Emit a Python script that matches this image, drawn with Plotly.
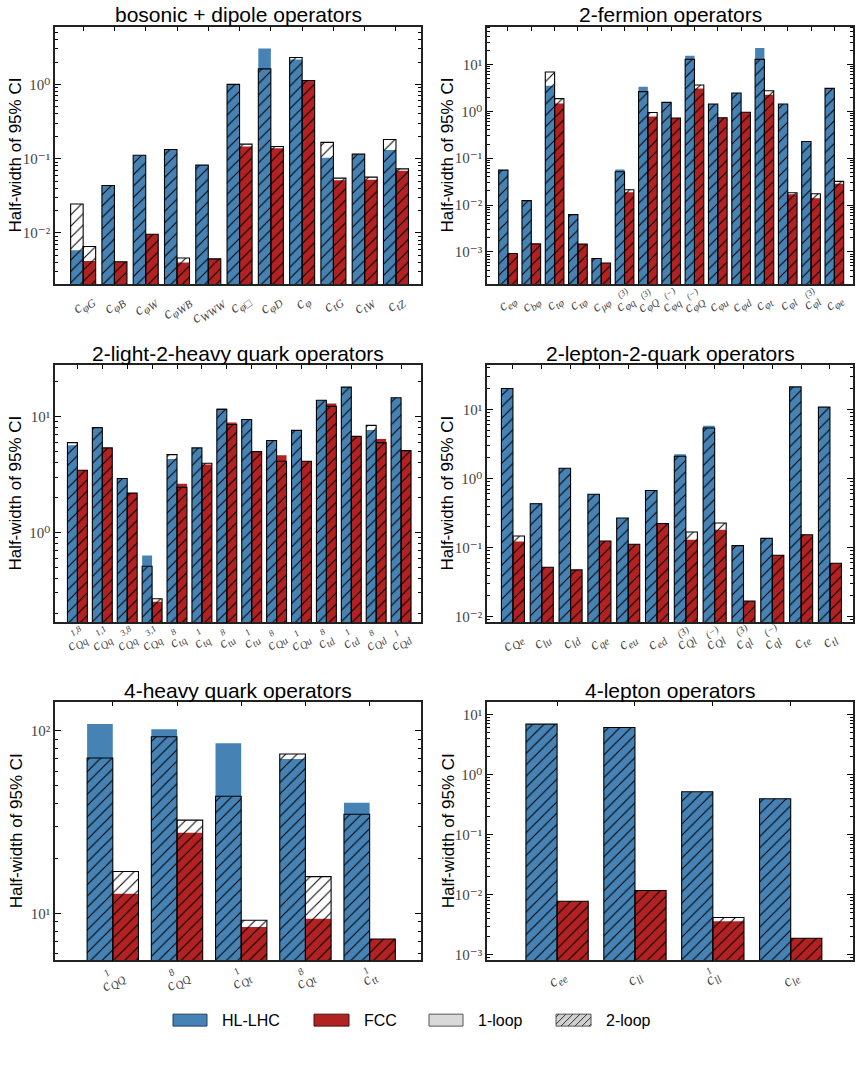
import re
import math
import plotly.graph_objects as go
import numpy as np

BLUE = "#4682b4"
RED = "#b22222"

# ---------------- data ----------------
# Panel 1: bosonic + dipole
bos_labels = ["c<sub>φG</sub>", "c<sub>φB</sub>", "c<sub>φW</sub>", "c<sub>φWB</sub>", "c<sub>WWW</sub>",
              "c<sub>φ□</sub>", "c<sub>φD</sub>", "c<sub>φ</sub>", "c<sub>tG</sub>", "c<sub>tW</sub>", "c<sub>tZ</sub>"]
bos_hl_1loop = [0.00585, 0.0436, 0.111, 0.133, 0.0818, 1.0, 3.04, 2.17, 0.1026, 0.115, 0.131]
bos_hl_2loop = [0.0245, 0.0436, 0.111, 0.133, 0.0818, 1.0, 1.62, 2.30, 0.166, 0.115, 0.181]
bos_fcc_1loop = [0.0042, 0.0041, 0.0096, 0.0040, 0.00448, 0.146, 0.138, 1.13, 0.0514, 0.0519, 0.0687]
bos_fcc_2loop = [0.00656, 0.0041, 0.0096, 0.0046, 0.00448, 0.157, 0.146, 1.13, 0.0547, 0.0565, 0.073]

# Panel 2: 2-fermion
ferm_labels = ["c<sub>eφ</sub>", "c<sub>bφ</sub>", "c<sub>tφ</sub>", "c<sub>τφ</sub>", "c<sub>μφ</sub>",
               "c<sup>(3)</sup><sub>φq</sub>", "c<sup>(3)</sup><sub>φQ</sub>", "c<sup>(−)</sup><sub>φq</sub>",
               "c<sup>(−)</sup><sub>φQ</sub>", "c<sub>φu</sub>", "c<sub>φd</sub>", "c<sub>φt</sub>",
               "c<sub>φl</sub>", "c<sup>(3)</sup><sub>φl</sub>", "c<sub>φe</sub>"]
ferm_hl_1loop = [0.0556, 0.0124, 3.52, 0.00622, 0.00072, 0.0574, 3.35, 1.55, 15.3, 1.43, 2.45, 22.3, 1.43, 0.226, 3.08]
ferm_hl_2loop = [0.0556, 0.0124, 6.87, 0.00622, 0.00072, 0.0512, 2.62, 1.55, 12.8, 1.43, 2.45, 12.8, 1.43, 0.226, 3.08]
ferm_fcc_1loop = [0.00092, 0.00148, 1.46, 0.00146, 0.00058, 0.0186, 0.77, 0.72, 3.08, 0.73, 0.95, 2.26, 0.0169, 0.0139, 0.0284]
ferm_fcc_2loop = [0.00092, 0.00148, 1.86, 0.00146, 0.00058, 0.0212, 0.94, 0.72, 3.63, 0.73, 0.95, 2.75, 0.0183, 0.0174, 0.0319]

# Panel 3: 2-light-2-heavy quark
lh_labels = ["c<sup>1,8</sup><sub>Qq</sub>", "c<sup>1,1</sup><sub>Qq</sub>", "c<sup>3,8</sup><sub>Qq</sub>",
             "c<sup>3,1</sup><sub>Qq</sub>", "c<sup>8</sup><sub>tq</sub>", "c<sup>1</sup><sub>tq</sub>",
             "c<sup>8</sup><sub>tu</sub>", "c<sup>1</sup><sub>tu</sub>", "c<sup>8</sup><sub>Qu</sub>",
             "c<sup>1</sup><sub>Qu</sub>", "c<sup>8</sup><sub>td</sub>", "c<sup>1</sup><sub>td</sub>",
             "c<sup>8</sup><sub>Qd</sub>", "c<sup>1</sup><sub>Qd</sub>"]
lh_hl_1loop = [5.63, 8.0, 2.91, 0.63, 4.30, 5.35, 11.7, 9.42, 6.2, 7.58, 13.8, 17.9, 7.63, 14.5]
lh_hl_2loop = [5.94, 8.0, 2.91, 0.51, 4.68, 5.35, 11.5, 9.42, 6.2, 7.58, 13.8, 17.9, 8.37, 14.5]
lh_fcc_1loop = [3.43, 5.35, 2.18, 0.252, 2.62, 3.84, 8.88, 4.97, 4.62, 4.10, 12.9, 6.73, 6.38, 5.07]
lh_fcc_2loop = [3.43, 5.35, 2.18, 0.267, 2.45, 3.94, 8.53, 4.97, 4.10, 4.10, 12.2, 6.73, 5.94, 5.07]

# Panel 4: 2-lepton-2-quark
lq_labels = ["c<sub>Qe</sub>", "c<sub>lu</sub>", "c<sub>ld</sub>", "c<sub>qe</sub>", "c<sub>eu</sub>", "c<sub>ed</sub>",
             "c<sup>(3)</sup><sub>Ql</sub>", "c<sup>(−)</sup><sub>Ql</sub>", "c<sup>(3)</sup><sub>ql</sub>",
             "c<sup>(−)</sup><sub>ql</sub>", "c<sub>te</sub>", "c<sub>tl</sub>"]
lq_hl_1loop = [20.1, 0.44, 1.41, 0.594, 0.268, 0.671, 2.24, 5.81, 0.107, 0.136, 21.2, 10.8]
lq_hl_2loop = [20.1, 0.431, 1.41, 0.594, 0.268, 0.671, 2.10, 5.38, 0.107, 0.136, 21.2, 10.8]
lq_fcc_1loop = [0.123, 0.052, 0.0476, 0.125, 0.112, 0.224, 0.130, 0.182, 0.0168, 0.0775, 0.154, 0.0594]
lq_fcc_2loop = [0.147, 0.052, 0.0476, 0.125, 0.112, 0.224, 0.168, 0.227, 0.0168, 0.0775, 0.154, 0.0594]

# Panel 5: 4-heavy quark
hq_labels = ["c<sup>1</sup><sub>QQ</sub>", "c<sup>8</sup><sub>QQ</sub>", "c<sup>1</sup><sub>Qt</sub>",
             "c<sup>8</sup><sub>Qt</sub>", "c<sup>1</sup><sub>tt</sub>"]
hq_hl_1loop = [108.7, 102.0, 85.3, 70.0, 40.3]
hq_hl_2loop = [70.9, 92.7, 43.8, 74.5, 34.9]
hq_fcc_1loop = [12.8, 27.6, 8.42, 9.35, 7.24]
hq_fcc_2loop = [16.96, 32.4, 9.16, 15.9, 7.24]

# Panel 6: 4-lepton
lep_labels = ["c<sub>ee</sub>", "c<sub>ll</sub>", "c<sup>1</sup><sub>ll</sub>", "c<sub>le</sub>"]
lep_hl_1loop = [6.95, 6.12, 0.522, 0.399]
lep_hl_2loop = [6.95, 6.12, 0.522, 0.399]
lep_fcc_1loop = [0.00785, 0.0118, 0.00365, 0.0019]
lep_fcc_2loop = [0.00785, 0.0118, 0.0042, 0.0019]

titles = ["bosonic + dipole operators", "2-fermion operators", "2-light-2-heavy quark operators",
          "2-lepton-2-quark operators", "4-heavy quark operators", "4-lepton operators"]

panels = [
    (bos_labels, bos_hl_1loop, bos_hl_2loop, bos_fcc_1loop, bos_fcc_2loop),
    (ferm_labels, ferm_hl_1loop, ferm_hl_2loop, ferm_fcc_1loop, ferm_fcc_2loop),
    (lh_labels, lh_hl_1loop, lh_hl_2loop, lh_fcc_1loop, lh_fcc_2loop),
    (lq_labels, lq_hl_1loop, lq_hl_2loop, lq_fcc_1loop, lq_fcc_2loop),
    (hq_labels, hq_hl_1loop, hq_hl_2loop, hq_fcc_1loop, hq_fcc_2loop),
    (lep_labels, lep_hl_1loop, lep_hl_2loop, lep_fcc_1loop, lep_fcc_2loop),
]

# ---------------- layout ----------------
W, H = 860, 1070
boxes = [(55, 421, 27, 285), (487, 853, 27, 285),
         (55, 421, 366, 624), (487, 853, 366, 624),
         (55, 421, 704, 963), (487, 853, 704, 963)]
yranges = [(-2.69, 0.774), (-3.69, 1.80), (-0.776, 1.444), (-2.08, 1.644), (0.743, 2.157), (-3.089, 1.21)]
label_sizes = [16, 15, 15, 16, 16, 16]
ANGLE = 35

SUPMAP = str.maketrans("-0123456789", "⁻⁰¹²³⁴⁵⁶⁷⁸⁹")


def px(x):
    return x / W


def py(y):
    return 1 - y / H


def text_width(s, size):
    w = 0.0
    for ch in s:
        if ch.isupper():
            w += 0.68
        elif ch in "φτμ□":
            w += 0.55
        elif ch in ",()":
            w += 0.3
        else:
            w += 0.48
    return w * size


fig = go.Figure()
layout = dict(width=W, height=H, margin=dict(l=0, r=0, t=0, b=0),
              plot_bgcolor="white", paper_bgcolor="white", barmode="overlay",
              showlegend=False, font=dict(family="Liberation Sans, Arial", color="black"))
annotations = []
shapes = []

for k, (labels, hl1, hl2, fc1, fc2) in enumerate(panels):
    n = k + 1
    xa = "x" if n == 1 else f"x{n}"
    ya = "y" if n == 1 else f"y{n}"
    x0, x1, y0, y1 = boxes[k]
    lo, hi = yranges[k]
    # 1-loop coloured bars
    for vals, col, off in [(hl1, BLUE, -0.4), (fc1, RED, 0.0)]:
        fig.add_trace(go.Bar(x=labels, y=vals, offset=off, width=0.4, xaxis=xa, yaxis=ya,
                             marker=dict(color=col, line=dict(width=0)), hoverinfo="skip"))
    # 2-loop hatched bars
    for vals, off in [(hl2, -0.4), (fc2, 0.0)]:
        fig.add_trace(go.Bar(x=labels, y=vals, offset=off, width=0.4, xaxis=xa, yaxis=ya,
                             marker=dict(color="rgba(0,0,0,0)", line=dict(color="black", width=1.1),
                                         pattern=dict(shape="/", fgcolor="black", bgcolor="rgba(0,0,0,0)",
                                                      size=8, solidity=0.13, fillmode="replace")),
                             hoverinfo="skip"))
    # axes
    decades = list(range(int(np.floor(lo)), int(np.ceil(hi)) + 1))
    major_dec = [d for d in decades if lo <= d <= hi]
    majors = [10.0 ** d for d in major_dec]
    minors = [m * 10.0 ** d for d in decades for m in range(2, 10) if lo <= np.log10(m * 10.0 ** d) <= hi]
    layout["xaxis" if n == 1 else f"xaxis{n}"] = dict(
        domain=[px(x0), px(x1)], anchor=ya, type="category", range=[-0.9, len(labels) - 0.2],
        showticklabels=False, ticks="inside", ticklen=4, tickcolor="black",
        showline=True, linecolor="#222", linewidth=1.5, mirror="allticks", showgrid=False,
        zeroline=False, fixedrange=True)
    layout["yaxis" if n == 1 else f"yaxis{n}"] = dict(
        domain=[py(y1), py(y0)], anchor=xa, type="log", range=[lo, hi],
        tickmode="array", tickvals=majors, ticktext=["10" + str(d).translate(SUPMAP) for d in major_dec],
        tickfont=dict(family="Liberation Serif, DejaVu Serif", size=15, color="#444"),
        ticks="inside", ticklen=6, tickcolor="black",
        minor=dict(tickmode="array", tickvals=minors, ticks="inside", ticklen=3, tickcolor="black"),
        showline=True, linecolor="#222", linewidth=1.5, mirror="allticks", showgrid=False,
        zeroline=False, fixedrange=True)
    # title
    annotations.append(dict(text=titles[k], x=px((x0 + x1) / 2), y=py(y0 - 12), xref="paper", yref="paper",
                            xanchor="center", yanchor="middle", showarrow=False,
                            font=dict(family="Liberation Sans, Arial", size=21, color="black")))
    # y label
    lx = 16 if k % 2 == 0 else 448
    annotations.append(dict(text="Half-width of 95% CI", x=px(lx), y=py((y0 + y1) / 2), xref="paper",
                            yref="paper", textangle=-90, xanchor="center", yanchor="middle", showarrow=False,
                            font=dict(family="Liberation Sans, Arial", size=17, color="black")))
    # x tick labels (rotated, centred under ticks); superscripts stacked above subscripts
    size = label_sizes[k]
    lab_font = dict(family="Liberation Serif, DejaVu Serif", size=size, color="#444", style="italic")
    th = math.radians(ANGLE)
    for lab in labels:
        m = re.match(r"c<sup>(.*?)</sup><sub>(.*?)</sub>", lab)
        if not m:
            annotations.append(dict(text=lab, x=lab, xref=xa, y=py(y1 + 4), yref="paper",
                                    textangle=-ANGLE, xanchor="center", yanchor="top", showarrow=False,
                                    font=lab_font))
            continue
        sup, sub = m.groups()
        main = f"c<sub>{sub}</sub>"
        # main part, centred at the same point as a plain label would be
        wmain = 0.46 * size + text_width(sub, 0.7 * size)
        hmain = 1.3 * size
        # centre of rotated bbox below the axis
        bw = wmain * math.cos(th) + hmain * math.sin(th)
        bh = wmain * math.sin(th) + hmain * math.cos(th)
        cx_shift = 0
        annotations.append(dict(text=main, x=lab, xref=xa, y=py(y1 + 4), yref="paper",
                                textangle=-ANGLE, xanchor="center", yanchor="top", showarrow=False,
                                font=lab_font))
        ssize = round(0.62 * size)
        sw = text_width(sup, ssize)
        u = -wmain / 2 + 0.46 * size + sw / 2 + 0.5
        v = 0.55 * size
        xs = u * math.cos(th) - v * math.sin(th)
        ys = u * math.sin(th) + v * math.cos(th)
        # centre of the main label in paper px (from top): y1 + 4 + bh/2
        cy = y1 + 4 + bh / 2
        annotations.append(dict(text=sup, x=lab, xref=xa, y=py(cy), yref="paper",
                                textangle=-ANGLE, xanchor="center", yanchor="middle", showarrow=False,
                                xshift=xs, yshift=ys,
                                font=dict(family="Liberation Serif, DejaVu Serif", size=ssize, color="#444",
                                          style="italic")))

# ---------------- custom legend ----------------
ly0, ly1 = 1017, 1029
legend_items = [("HL-LHC", 173, 207, BLUE, "#1f3f5f"), ("FCC", 314, 349, RED, "#4a0d0d"),
                ("1-loop", 429, 463, "#d9d9d9", "#555"), ("2-loop", 556, 591, "#d0d0d0", "#555")]
for name, a, b, fill, edge in legend_items:
    shapes.append(dict(type="rect", xref="paper", yref="paper", x0=px(a), x1=px(b), y0=py(ly1), y1=py(ly0),
                       fillcolor=fill, line=dict(color=edge, width=1)))
    annotations.append(dict(text=name, x=px(b + 13), y=py((ly0 + ly1) / 2), xref="paper", yref="paper",
                            xanchor="left", yanchor="middle", showarrow=False,
                            font=dict(family="Liberation Sans, Arial", size=16, color="black")))
# hatch lines for the 2-loop swatch
a, b = 556, 591
h = ly1 - ly0
for s in np.arange(a - h + 3, b, 7):
    xs0, ys0 = s, ly1
    xs1, ys1 = s + h, ly0
    if xs0 < a:
        ys0 = ly1 - (a - xs0)
        xs0 = a
    if xs1 > b:
        ys1 = ly0 + (xs1 - b)
        xs1 = b
    if xs1 > xs0:
        shapes.append(dict(type="line", xref="paper", yref="paper", x0=px(xs0), y0=py(ys0),
                           x1=px(xs1), y1=py(ys1), line=dict(color="#333", width=1)))

layout["annotations"] = annotations
layout["shapes"] = shapes
fig.update_layout(**layout)
fig.write_html("out.html")
